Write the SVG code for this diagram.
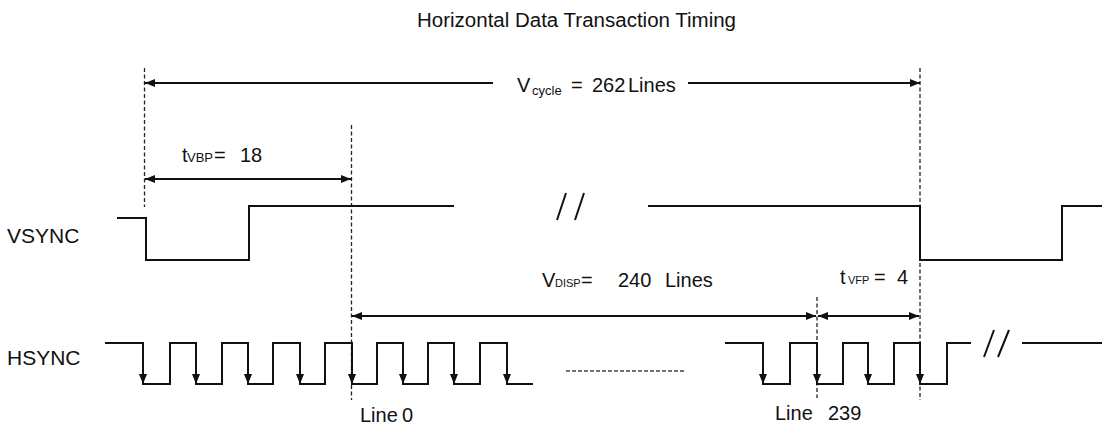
<svg xmlns="http://www.w3.org/2000/svg" width="1110" height="435" viewBox="0 0 1110 435">
<style>
  text { font-family: "Liberation Sans", Arial, sans-serif; fill: #111; }
  .sig { fill: none; stroke: #111; stroke-width: 2; stroke-linejoin: miter; }
  .dim { fill: none; stroke: #111; stroke-width: 2; }
  .guide { fill: none; stroke: #222; stroke-width: 1.3; stroke-dasharray: 4 2.5; }
  .dots { fill: none; stroke: #444; stroke-width: 1.5; stroke-dasharray: 4 2; }
  .lbl { font-size: 20px; }
  .sub { font-size: 13px; }
  .sm { font-size: 11px; }
</style>
<defs>
  <marker id="ah" viewBox="0 0 10 8" refX="10" refY="4" markerWidth="10" markerHeight="8" markerUnits="userSpaceOnUse" orient="auto-start-reverse">
    <path d="M0,0 L10,4 L0,8 Z" fill="#111"/>
  </marker>
</defs>

<g id="title">
  <text x="417" y="27" class="lbl" textLength="319" lengthAdjust="spacingAndGlyphs">Horizontal Data Transaction Timing</text>
</g>

<g id="guides">
  <line class="guide" x1="144.5" y1="68" x2="144.5" y2="207"/>
  <line class="guide" x1="351.5" y1="125" x2="351.5" y2="400"/>
  <line class="guide" x1="920" y1="68" x2="920" y2="400"/>
  <line class="guide" x1="817" y1="297" x2="817" y2="398"/>
</g>

<g id="vsync-label"><text x="7" y="243" style="font-size:21px">VSYNC</text></g>
<g id="hsync-label"><text x="7" y="365" style="font-size:21px">HSYNC</text></g>

<g id="vsync">
  <path class="sig" d="M117,218 H146 V260 H249 V206 H454"/>
  <path class="sig" d="M648,206 H920 V260 H1062 V206 H1102"/>
  <path class="sig" stroke-width="1.2" d="M557,220 L566,193 M575,220 L584,193"/>
</g>

<g id="hsync">
  <path class="sig" d="M105,343 H143 V384 H170 V343 H196 V384 H222 V343 H248 V384 H273 V343 H300 V384 H325 V343 H352 V384 H377 V343 H403 V384 H428 V343 H454 V384 H480 V343 H507 V384 H533"/>
  <path class="sig" d="M725,343 H763 V384 H790 V343 H817 V384 H843 V343 H868 V384 H894 V343 H920 V384 H947 V343 H971"/>
  <path class="sig" d="M1022,343 H1102"/>
  <path class="sig" stroke-width="1.2" d="M984,357 L994,330 M998,357 L1009,330"/>
  <line class="dots" x1="566" y1="371" x2="684" y2="371"/>
  <g id="hsync-edges">
    <line class="dim" x1="143" y1="350" x2="143" y2="384" marker-end="url(#ah)"/>
    <line class="dim" x1="196" y1="350" x2="196" y2="384" marker-end="url(#ah)"/>
    <line class="dim" x1="248" y1="350" x2="248" y2="384" marker-end="url(#ah)"/>
    <line class="dim" x1="300" y1="350" x2="300" y2="384" marker-end="url(#ah)"/>
    <line class="dim" x1="352" y1="350" x2="352" y2="384" marker-end="url(#ah)"/>
    <line class="dim" x1="403" y1="350" x2="403" y2="384" marker-end="url(#ah)"/>
    <line class="dim" x1="454" y1="350" x2="454" y2="384" marker-end="url(#ah)"/>
    <line class="dim" x1="507" y1="350" x2="507" y2="384" marker-end="url(#ah)"/>
    <line class="dim" x1="763" y1="350" x2="763" y2="384" marker-end="url(#ah)"/>
    <line class="dim" x1="817" y1="350" x2="817" y2="384" marker-end="url(#ah)"/>
    <line class="dim" x1="868" y1="350" x2="868" y2="384" marker-end="url(#ah)"/>
    <line class="dim" x1="920" y1="350" x2="920" y2="384" marker-end="url(#ah)"/>
  </g>
</g>

<g id="connectors">
  <line class="dim" x1="145" y1="83" x2="493" y2="83" marker-start="url(#ah)"/>
  <line class="dim" x1="688" y1="83" x2="920" y2="83" marker-end="url(#ah)"/>
  <line class="dim" x1="145" y1="179" x2="351" y2="179" marker-start="url(#ah)" marker-end="url(#ah)"/>
  <line class="dim" x1="352" y1="316" x2="816" y2="316" marker-start="url(#ah)" marker-end="url(#ah)"/>
  <line class="dim" x1="818" y1="316" x2="919" y2="316" marker-start="url(#ah)" marker-end="url(#ah)"/>
</g>

<g id="labels">
  <text y="92" class="lbl"><tspan x="517">V</tspan><tspan x="532" y="95" class="sub">cycle</tspan><tspan x="571" y="92">=</tspan><tspan x="592">262</tspan><tspan x="628">Lines</tspan></text>
  <text y="162" class="lbl"><tspan x="182">t</tspan><tspan x="187" class="sub">VBP</tspan><tspan x="214">=</tspan><tspan x="240">18</tspan></text>
  <text y="287" class="lbl"><tspan x="542">V</tspan><tspan x="555" class="sm">DISP</tspan><tspan x="581">=</tspan><tspan x="618">240</tspan><tspan x="665">Lines</tspan></text>
  <text y="284" class="lbl"><tspan x="840">t</tspan><tspan x="848" class="sm">VFP</tspan><tspan x="874">=</tspan><tspan x="897">4</tspan></text>
  <text y="422" class="lbl"><tspan x="360">Line</tspan><tspan x="402">0</tspan></text>
  <text y="420" class="lbl"><tspan x="775">Line</tspan><tspan x="828">239</tspan></text>
</g>
</svg>
